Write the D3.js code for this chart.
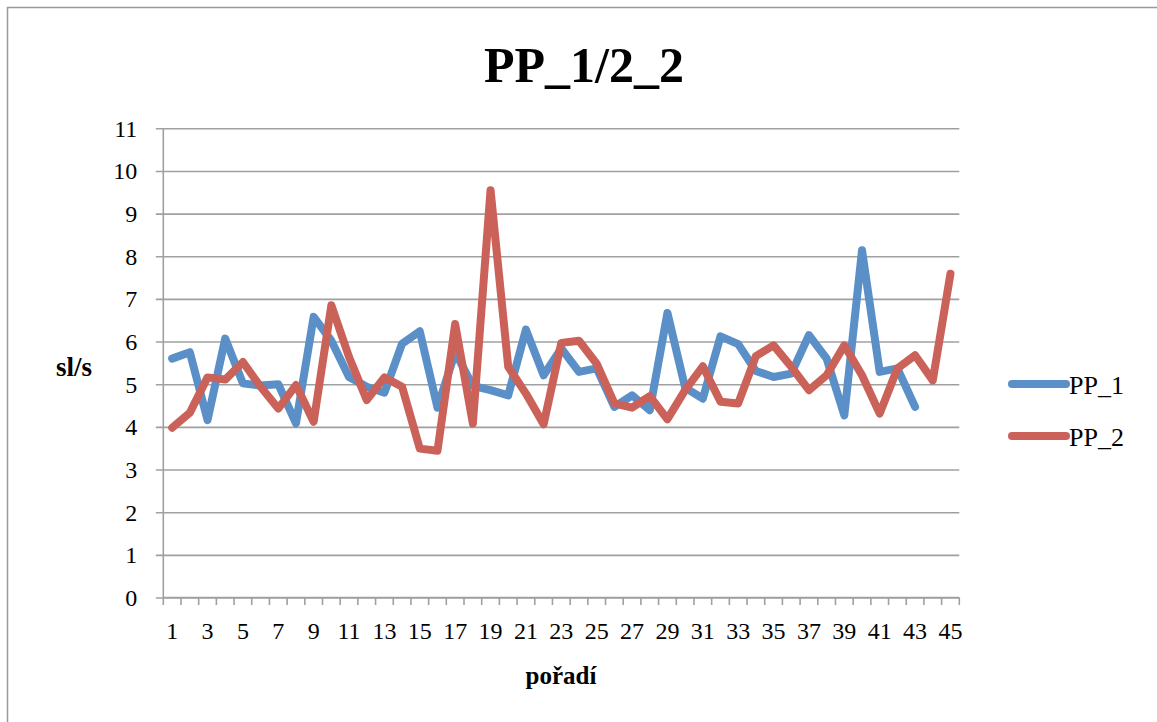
<!DOCTYPE html>
<html>
<head>
<meta charset="utf-8">
<script src="https://cdn.jsdelivr.net/npm/d3@7"></script>
<style>
  html, body { margin: 0; padding: 0; background: #fff; }
  svg { display: block; }
  text { font-family: "Liberation Serif", "DejaVu Serif", serif; fill: #000; }
</style>
</head>
<body>
<svg id="chart" width="1157" height="722"></svg>
<script>
const title = "PP_1/2_2";
const xTitle = "pořadí";
const yTitle = "sl/s";
const categories = d3.range(1, 46);
const xTickLabels = d3.range(1, 46, 2);
const yTicks = [0, 1, 2, 3, 4, 5, 6, 7, 8, 9, 10, 11];
const seriesNames = ["PP_1", "PP_2"];
const pp1 = [5.60, 5.75, 4.16, 6.07, 5.02, 4.97, 5.00, 4.08, 6.58, 6.02,
             5.17, 4.94, 4.80, 5.95, 6.24, 4.45, 5.75, 4.96, 4.86, 4.74,
             6.28, 5.21, 5.84, 5.29, 5.37, 4.47, 4.74, 4.39, 6.67, 4.92,
             4.66, 6.12, 5.94, 5.31, 5.17, 5.25, 6.15, 5.60, 4.27, 8.14,
             5.29, 5.37, 4.47];
const pp2 = [3.98, 4.33, 5.16, 5.11, 5.52, 4.94, 4.43, 4.98, 4.12, 6.85,
             5.64, 4.63, 5.16, 4.94, 3.49, 3.44, 6.41, 4.08, 9.55, 5.41,
             4.78, 4.06, 5.97, 6.02, 5.48, 4.55, 4.45, 4.72, 4.18, 4.86,
             5.42, 4.59, 4.55, 5.66, 5.91, 5.41, 4.86, 5.21, 5.91, 5.21,
             4.31, 5.37, 5.68, 5.09, 7.59];
const colors = ["#5b8fc8", "#cb6259"];

(function () {
const svg = d3.select("#chart");
const gridColor = "#a0a0a0";

// outer frame
svg.append("rect").attr("x", 7.5).attr("y", 7.5).attr("width", 1160).attr("height", 730)
  .attr("fill", "none").attr("stroke", "#999").attr("stroke-width", 1.5);

const pLeft = 163.3, pRight = 959.3, pTop = 128.3, pBottom = 597.5;
const x = d3.scaleBand().domain(categories).range([pLeft, pRight]).padding(0);
const y = d3.scaleLinear().domain([0, 11]).range([pBottom, pTop]);
const cx = d => x(d) + x.bandwidth() / 2;

// gridlines + y axis
const yAxis = d3.axisLeft(y).tickValues(yTicks).tickSizeOuter(0).tickPadding(18);
const gy = svg.append("g").attr("transform", `translate(${pLeft},0)`).call(yAxis);
gy.select(".domain").remove();
gy.selectAll(".tick line").attr("stroke", gridColor).attr("stroke-width", 1.6)
  .attr("x2", pRight - pLeft).attr("x1", -7.5);
gy.selectAll(".tick text").attr("font-size", 24).attr("font-family", "Liberation Serif")
  .attr("fill", "#000").attr("x", -26).attr("dy", "0.33em");

// y axis line
svg.append("line").attr("x1", pLeft).attr("x2", pLeft).attr("y1", pTop).attr("y2", pBottom)
  .attr("stroke", gridColor).attr("stroke-width", 1.6);

// x axis: tick marks between categories
const gx = svg.append("g").attr("transform", `translate(0,${pBottom})`);
gx.append("line").attr("x1", pLeft).attr("x2", pRight).attr("stroke", gridColor).attr("stroke-width", 1.6);
const boundaries = categories.map(c => x(c)).concat([pRight]);
gx.selectAll("line.tk").data(boundaries).enter().append("line").attr("class", "tk")
  .attr("x1", d => d).attr("x2", d => d).attr("y1", 0).attr("y2", 7.5)
  .attr("stroke", gridColor).attr("stroke-width", 1.6);
gx.selectAll("text.xl").data(xTickLabels).enter().append("text").attr("class", "xl")
  .attr("x", d => cx(d)).attr("y", 41).attr("text-anchor", "middle")
  .attr("font-size", 24).text(d => d);

// lines
const line = d3.line().x((d, i) => cx(categories[i])).y(d => y(d));
[pp1, pp2].forEach((s, k) => {
  svg.append("path").datum(s).attr("d", line).attr("fill", "none")
    .attr("stroke", colors[k]).attr("stroke-width", 8)
    .attr("stroke-linejoin", "round").attr("stroke-linecap", "round");
});

// titles
svg.append("text").attr("x", 584).attr("y", 82).attr("text-anchor", "middle")
  .attr("font-size", 50).attr("font-weight", "bold").text(title);
svg.append("text").attr("x", 561).attr("y", 684).attr("text-anchor", "middle")
  .attr("font-size", 25).attr("font-weight", "bold").text(xTitle);
svg.append("text").attr("x", 74).attr("y", 376).attr("text-anchor", "middle")
  .attr("font-size", 27).attr("font-weight", "bold").text(yTitle);

// legend
const legY = [384, 436];
seriesNames.forEach((n, k) => {
  svg.append("line").attr("x1", 1012).attr("x2", 1066).attr("y1", legY[k]).attr("y2", legY[k])
    .attr("stroke", colors[k]).attr("stroke-width", 8).attr("stroke-linecap", "round");
  svg.append("text").attr("x", 1069).attr("y", legY[k] + 10).attr("font-size", 26).text(n);
});
})();
</script>
</body>
</html>
